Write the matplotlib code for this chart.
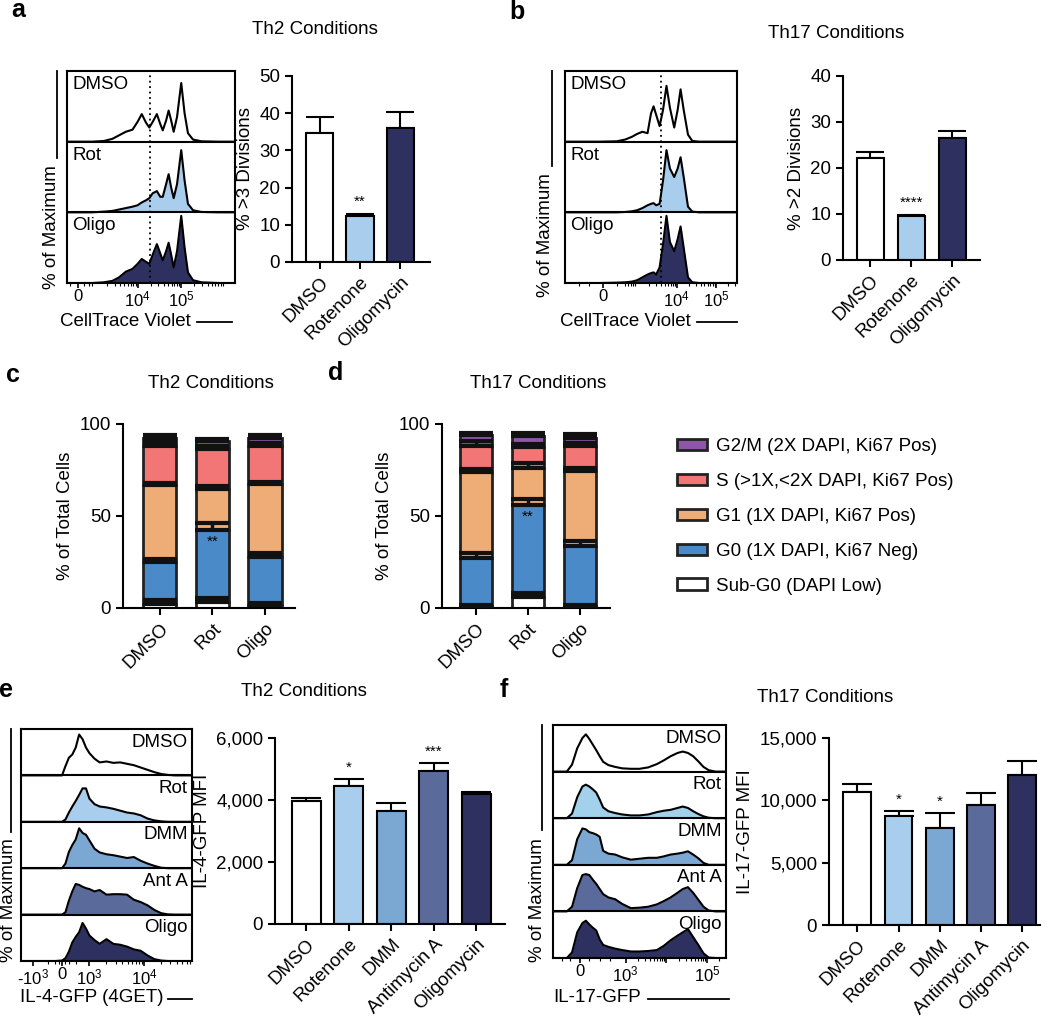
import numpy as np
import matplotlib
matplotlib.use('Agg')
import matplotlib.pyplot as plt
from matplotlib.lines import Line2D
from matplotlib.patches import Patch

plt.rcParams['font.family'] = ['Liberation Sans', 'DejaVu Sans']
plt.rcParams['font.size'] = 13.5
plt.rcParams['mathtext.fontset'] = 'custom'
plt.rcParams['mathtext.rm'] = 'Liberation Sans'
plt.rcParams['mathtext.it'] = 'Liberation Sans:italic'
plt.rcParams['axes.linewidth'] = 1.5

# ---------------- data ----------------
# a: CellTrace Violet histograms (display units 0-100, height as fraction of strip)
a_x = [0, 15, 22, 27, 31, 35, 39, 42, 44.5, 47, 49, 51, 53.5, 55.5, 57, 59, 60.5,
       62, 63.5, 65.5, 68, 70, 72, 75, 80, 90, 100]
a_dmso = [0, 0, 0.01, 0.04, 0.09, 0.14, 0.17, 0.28, 0.39, 0.27, 0.2, 0.28, 0.39, 0.25,
          0.16, 0.3, 0.44, 0.3, 0.14, 0.35, 0.83, 0.4, 0.12, 0.03, 0.005, 0, 0]
a_rot = [0, 0, 0.01, 0.02, 0.04, 0.06, 0.08, 0.1, 0.14, 0.17, 0.2, 0.27, 0.3, 0.22,
         0.22, 0.4, 0.54, 0.35, 0.2, 0.4, 0.88, 0.45, 0.12, 0.03, 0.005, 0, 0]
a_oligo = [0, 0, 0.01, 0.03, 0.08, 0.16, 0.2, 0.27, 0.34, 0.3, 0.27, 0.4, 0.55, 0.42,
           0.32, 0.45, 0.57, 0.4, 0.22, 0.45, 0.95, 0.5, 0.15, 0.04, 0.01, 0, 0]

b_x = [0, 20, 30, 35, 39, 42, 45, 48, 50, 51.5, 53, 55, 57, 59, 61, 63.5, 65.5, 67.2,
       69, 71.5, 74, 78, 85, 100]
b_dmso = [0, 0, 0.005, 0.03, 0.07, 0.11, 0.14, 0.12, 0.4, 0.5, 0.38, 0.22, 0.45, 0.79,
          0.48, 0.2, 0.45, 0.74, 0.45, 0.1, 0.01, 0, 0, 0]
b_rot = [0, 0, 0, 0.005, 0.015, 0.03, 0.06, 0.1, 0.12, 0.13, 0.1, 0.12, 0.45, 0.88,
         0.62, 0.5, 0.62, 0.78, 0.5, 0.08, 0.01, 0, 0, 0]
b_oligo = [0, 0, 0.005, 0.01, 0.02, 0.04, 0.08, 0.12, 0.14, 0.15, 0.12, 0.22, 0.55, 0.95,
           0.58, 0.45, 0.62, 0.8, 0.5, 0.08, 0.01, 0, 0, 0]

# a, b bars
div_names = ['DMSO', 'Rotenone', 'Oligomycin']
a_vals = [34.7, 12.5, 36.0]
a_sem = [4.3, 0.3, 4.3]
b_vals = [22.2, 9.5, 26.5]
b_sem = [1.2, 0.3, 1.5]

# c, d stacked cell-cycle bars
cc_names = ['DMSO', 'Rot', 'Oligo']
phases = ['Sub-G0 (DAPI Low)', 'G0 (1X DAPI, Ki67 Neg)', 'G1 (1X DAPI, Ki67 Pos)',
          'S (>1X,<2X DAPI, Ki67 Pos)', 'G2/M (2X DAPI, Ki67 Pos)']
c_vals = [[2.0, 3.5, 1.5], [23.0, 39.0, 26.0], [42.0, 22.0, 40.0],
          [21.0, 22.0, 20.5], [4.5, 4.5, 4.5]]
c_sem = [[2.3, 1.8, 1.0], [1.5, 3.5, 2.5], [1.2, 2.0, 1.0],
         [2.0, 1.5, 1.8], [1.3, 1.0, 1.3]]
d_vals = [[1.0, 6.0, 1.0], [26.0, 50.0, 32.5], [47.0, 20.0, 41.0],
          [14.0, 11.5, 13.5], [6.0, 6.0, 4.5]]
d_sem = [[0.8, 2.0, 0.5], [3.0, 3.5, 2.8], [1.5, 3.0, 1.5],
         [2.5, 1.5, 1.8], [1.2, 1.5, 2.0]]

# e: IL-4-GFP histograms
e_x = [0, 10, 20, 24, 26, 28, 30, 32, 34, 36, 38, 40, 43, 46, 50, 54, 58, 62, 66, 70,
       74, 78, 82, 86, 90, 100]
e_dmso = [0, 0, 0, 0, 0.2, 0.38, 0.45, 0.6, 0.88, 0.78, 0.6, 0.48, 0.36, 0.28, 0.3,
          0.27, 0.28, 0.25, 0.22, 0.17, 0.12, 0.07, 0.03, 0.01, 0, 0]
e_rot = [0, 0, 0, 0, 0.05, 0.2, 0.33, 0.45, 0.58, 0.72, 0.72, 0.5, 0.38, 0.33, 0.31,
         0.28, 0.24, 0.2, 0.18, 0.14, 0.07, 0.03, 0.01, 0, 0, 0]
e_dmm = [0, 0, 0, 0, 0.1, 0.35, 0.5, 0.62, 0.86, 0.76, 0.72, 0.6, 0.42, 0.34, 0.3,
         0.28, 0.25, 0.22, 0.24, 0.16, 0.1, 0.05, 0.01, 0, 0, 0]
e_anta = [0, 0, 0, 0, 0.05, 0.3, 0.5, 0.66, 0.64, 0.6, 0.57, 0.55, 0.5, 0.53, 0.43,
          0.44, 0.44, 0.43, 0.32, 0.27, 0.2, 0.1, 0.03, 0.005, 0, 0]
e_oligo = [0, 0, 0, 0.01, 0.06, 0.2, 0.4, 0.52, 0.62, 0.82, 0.7, 0.55, 0.45, 0.37,
           0.47, 0.37, 0.35, 0.31, 0.25, 0.22, 0.12, 0.04, 0.01, 0, 0, 0]

# f: IL-17-GFP histograms
f_x = [0, 8, 11, 14, 17, 19, 21, 23, 25, 27, 29, 32, 36, 40, 45, 50, 55, 60, 64, 68,
       72, 75, 78, 81, 84, 87, 90, 94, 100]
f_dmso = [0, 0, 0.15, 0.5, 0.72, 0.8, 0.7, 0.58, 0.46, 0.33, 0.21, 0.14, 0.1, 0.07,
          0.06, 0.06, 0.09, 0.16, 0.24, 0.33, 0.4, 0.43, 0.4, 0.33, 0.22, 0.1, 0.03, 0, 0]
f_rot = [0, 0, 0.1, 0.45, 0.68, 0.72, 0.68, 0.62, 0.55, 0.4, 0.23, 0.15, 0.11, 0.08,
         0.06, 0.06, 0.08, 0.13, 0.16, 0.18, 0.22, 0.25, 0.22, 0.15, 0.09, 0.04, 0.01, 0, 0]
f_dmm = [0, 0, 0.1, 0.55, 0.78, 0.76, 0.7, 0.68, 0.65, 0.6, 0.3, 0.24, 0.22, 0.16,
         0.11, 0.13, 0.15, 0.15, 0.18, 0.22, 0.24, 0.26, 0.29, 0.22, 0.14, 0.04, 0, 0, 0]
f_anta = [0, 0, 0.1, 0.5, 0.78, 0.8, 0.78, 0.68, 0.59, 0.48, 0.37, 0.3, 0.26, 0.16,
          0.07, 0.08, 0.1, 0.15, 0.22, 0.3, 0.4, 0.48, 0.52, 0.4, 0.25, 0.1, 0.02, 0, 0]
f_oligo = [0, 0, 0.12, 0.55, 0.75, 0.8, 0.72, 0.65, 0.59, 0.4, 0.28, 0.24, 0.2, 0.17,
           0.14, 0.14, 0.15, 0.17, 0.26, 0.38, 0.48, 0.55, 0.62, 0.45, 0.28, 0.1, 0.01, 0, 0]

# e, f bars
mfi_names = ['DMSO', 'Rotenone', 'DMM', 'Antimycin A', 'Oligomycin']
e_vals = [3960, 4440, 3650, 4950, 4180]
e_sem = [120, 250, 250, 250, 80]
f_vals = [10650, 8750, 7800, 9600, 12050]
f_sem = [650, 400, 1200, 1000, 1100]

# ---------------- colours ----------------
WHITE = 'white'
LBLUE = '#a9cdec'
MBLUE = '#7ba7d3'
SBLUE = '#5a6b9b'
NAVY = '#2e315f'
phase_cols = ['white', '#4a8ac8', '#eeac76', '#f27676', '#8e55a8']

W, H = 1050, 1016
fig = plt.figure(figsize=(W / 100, H / 100), dpi=100)


def fx(x):
    return x / W


def fy(y):
    return 1 - y / H


def box(l, t, r, b):
    return fig.add_axes([fx(l), fy(b), (r - l) / W, (b - t) / H])


def fig_line(xs, ys):
    fig.add_artist(Line2D([fx(v) for v in xs], [fy(v) for v in ys],
                          color='black', lw=1.3))


def decade_minor(p0, step, lo=0, hi=100):
    out = []
    for d in range(-3, 4):
        for k in range(2, 10):
            p = p0 + step * (d + np.log10(k))
            if lo < p < hi:
                out.append(p)
    return out


def histo(ax, x, curves, names, colors, right_labels, ticks, ticklabels, minor,
          vline=None):
    n = len(curves)
    for i, (y, c, nm) in enumerate(zip(curves, colors, names)):
        base = n - 1 - i
        yy = base + np.array(y)
        if c is not None:
            ax.fill_between(x, base, yy, color=c, lw=0, zorder=1)
        ax.plot(x, yy, color='black', lw=1.5, zorder=3)
        if right_labels:
            ax.text(97.5, base + 0.9, nm, ha='right', va='top', zorder=4)
        else:
            ax.text(3, base + 0.93, nm, ha='left', va='top', zorder=4)
    for k in range(1, n):
        ax.axhline(k, color='black', lw=1.5, zorder=5)
    if vline is not None:
        ax.axvline(vline, color='black', lw=1.3, ls=(0, (1, 2)), zorder=2)
    ax.set_xlim(0, 100)
    ax.set_ylim(0, n)
    ax.set_yticks([])
    ax.set_xticks(ticks)
    ax.set_xticklabels(ticklabels, fontsize=12)
    ax.set_xticks(minor, minor=True)
    ax.tick_params(axis='x', which='major', length=3.5, width=1.2, pad=1)
    ax.tick_params(axis='x', which='minor', length=2.5, width=0.8)


def style_bar_axes(ax):
    for s in ['top', 'right']:
        ax.spines[s].set_visible(False)
    ax.tick_params(length=5, width=1.5)


def bars(ax, names, vals, sem, colors, width, xlim, ylim, yticks, ylabel, comma=False,
         cap=10):
    x = np.arange(len(vals))
    ax.errorbar(x, vals, yerr=[np.zeros(len(vals)), sem], fmt='none', ecolor='black',
                elinewidth=1.5, capsize=cap, capthick=1.5, zorder=1)
    ax.bar(x, vals, width, color=colors, edgecolor='black', lw=1.5, zorder=2)
    ax.set_xlim(*xlim)
    ax.set_ylim(*ylim)
    ax.set_yticks(yticks)
    if comma:
        ax.set_yticklabels([f'{v:,}' for v in yticks])
    ax.set_xticks(x)
    ax.set_xticklabels(names, rotation=45, ha='right', rotation_mode='anchor')
    ax.set_ylabel(ylabel)
    style_bar_axes(ax)


def star(ax, xi, top, s, off=4):
    ax.annotate(s, (xi, top), xytext=(0, off), textcoords='offset points',
                ha='center', va='bottom', fontsize=11)


def stacked(ax, vals, sem, width, xlim, sig_y):
    x = np.arange(len(cc_names))
    bottom = np.zeros(len(cc_names))
    for seg, err, col, lab in zip(vals, sem, phase_cols, phases):
        seg = np.array(seg)
        ax.bar(x, seg, width, bottom=bottom, color=col, edgecolor='#222222', lw=2,
               zorder=2, label=lab)
        top = bottom + seg
        ax.errorbar(x, top, yerr=[np.zeros(len(x)), err], fmt='none', ecolor='#111111',
                    elinewidth=2.5, capsize=12, capthick=3, zorder=3)
        bottom = top
    ax.text(1, sig_y, '**', ha='center', va='center', fontsize=11, zorder=4)
    ax.set_xlim(*xlim)
    ax.set_ylim(0, 100)
    ax.set_yticks([0, 50, 100])
    ax.set_xticks(x)
    ax.set_xticklabels(cc_names, rotation=45, ha='right', rotation_mode='anchor')
    ax.set_ylabel('% of Total Cells')
    style_bar_axes(ax)


# ---------------- panel letters and titles ----------------
for lt, (px, py) in zip('abcdef', [(18, 10), (517, 12), (13, 375), (336, 373),
                                   (6, 690), (504, 690)]):
    fig.text(fx(px), fy(py), lt, fontsize=18, fontweight='bold', ha='center', va='center')
for t, (px, py) in zip(['Th2 Conditions', 'Th17 Conditions', 'Th2 Conditions',
                        'Th17 Conditions', 'Th2 Conditions', 'Th17 Conditions'],
                       [(315, 30), (836, 34), (211, 383), (538, 383), (304, 692),
                        (825, 697)]):
    fig.text(fx(px), fy(py), t, ha='center', va='center')

# ---------------- a ----------------
ax = box(67, 71, 235, 283)
histo(ax, a_x, [a_dmso, a_rot, a_oligo], ['DMSO', 'Rot', 'Oligo'], [None, LBLUE, NAVY],
      False, [6.5, 42, 68], ['0', '$10^4$', '$10^5$'],
      [2, 10, 13] + decade_minor(42, 26, 14, 100), vline=49.4)
fig.text(fx(51), fy(289), '% of Maximum', rotation=90, ha='center', va='bottom')
fig_line([57, 57], [71, 158])
fig.text(fx(60), fy(321), 'CellTrace Violet', ha='left', va='center')
fig_line([197, 232], [322, 322])

ax = box(292, 76, 430, 262)
bars(ax, div_names, a_vals, a_sem, [WHITE, LBLUE, NAVY], 0.67, (-0.68, 2.73), (0, 50),
     [0, 10, 20, 30, 40, 50], '% >3 Divisions')
star(ax, 1, a_vals[1] + a_sem[1], '**')

# ---------------- b ----------------
ax = box(565, 71, 737, 283)
histo(ax, b_x, [b_dmso, b_rot, b_oligo], ['DMSO', 'Rot', 'Oligo'], [None, LBLUE, NAVY],
      False, [22, 65, 88], ['0', '$10^4$', '$10^5$'],
      [8, 14, 30] + decade_minor(65, 23, 33, 100), vline=55.8)
fig.text(fx(546), fy(297), '% of Maximum', rotation=90, ha='center', va='bottom')
fig_line([552, 552], [71, 166])
fig.text(fx(560), fy(321), 'CellTrace Violet', ha='left', va='center')
fig_line([697, 737], [322, 322])

ax = box(843, 76, 980, 260)
bars(ax, div_names, b_vals, b_sem, [WHITE, LBLUE, NAVY], 0.66, (-0.66, 2.68), (0, 40),
     [0, 10, 20, 30, 40], '% >2 Divisions')
star(ax, 1, b_vals[1] + b_sem[1], '****')

# ---------------- c, d ----------------
ax = box(123, 424, 295, 608)
stacked(ax, c_vals, c_sem, 0.63, (-0.7, 2.57), 36)
ax = box(442, 424, 610, 608)
stacked(ax, d_vals, d_sem, 0.62, (-0.65, 2.58), 49.5)

leg_handles = [Patch(facecolor=c, edgecolor='#222222', lw=2, label=l)
               for c, l in zip(phase_cols, phases)][::-1]
fig.legend(handles=leg_handles, loc='upper left', bbox_to_anchor=(fx(668), fy(429)),
           frameon=False, handlelength=1.6, handleheight=0.55, labelspacing=0.95,
           borderpad=0, handletextpad=0.45, fontsize=13.5)

# ---------------- e ----------------
ax = box(21, 729, 192, 961)
histo(ax, e_x, [e_dmso, e_rot, e_dmm, e_anta, e_oligo],
      ['DMSO', 'Rot', 'DMM', 'Ant A', 'Oligo'], [None, LBLUE, MBLUE, SBLUE, NAVY],
      True, [7, 24, 40, 72], ['-$10^3$', '0', '$10^3$', '$10^4$'],
      [16, 20, 22, 26, 28, 32] + decade_minor(40, 32, 41, 100))
fig.text(fx(9), fy(962), '% of Maximum', rotation=90, ha='center', va='bottom')
fig_line([11, 11], [729, 832])
fig.text(fx(20), fy(998), 'IL-4-GFP (4GET)', ha='left', va='center')
fig_line([168, 192], [999, 999])

ax = box(275, 738, 505, 924)
bars(ax, mfi_names, e_vals, e_sem, [WHITE, LBLUE, MBLUE, SBLUE, NAVY], 0.68,
     (-0.73, 4.67), (0, 6000), [0, 2000, 4000, 6000], 'IL-4-GFP MFI', comma=True, cap=11)
star(ax, 1, e_vals[1] + e_sem[1], '*', off=3)
star(ax, 3, e_vals[3] + e_sem[3], '***', off=3)

# ---------------- f ----------------
ax = box(553, 725, 726, 958)
histo(ax, f_x, [f_dmso, f_rot, f_dmm, f_anta, f_oligo],
      ['DMSO', 'Rot', 'DMM', 'Ant A', 'Oligo'], [None, '#a3d0ea', MBLUE, SBLUE, NAVY],
      True, [15.6, 42, 65.5, 89], ['0', '$10^3$', '', '$10^5$'],
      [5, 10, 21, 27, 33] + decade_minor(42, 23.5, 43, 100))
fig.text(fx(538), fy(962), '% of Maximum', rotation=90, ha='center', va='bottom')
fig_line([542, 542], [725, 830])
fig.text(fx(553), fy(998), 'IL-17-GFP', ha='left', va='center')
fig_line([648, 729], [999, 999])

ax = box(829, 738, 1040, 925)
bars(ax, mfi_names, f_vals, f_sem, [WHITE, '#a9cdec', MBLUE, SBLUE, NAVY], 0.68,
     (-0.69, 4.44), (0, 15000), [0, 5000, 10000, 15000], 'IL-17-GFP MFI', comma=True,
     cap=11)
star(ax, 1, f_vals[1] + f_sem[1], '*', off=3)
star(ax, 2, f_vals[2] + f_sem[2], '*', off=3)

fig.savefig('out.png', dpi=100)
